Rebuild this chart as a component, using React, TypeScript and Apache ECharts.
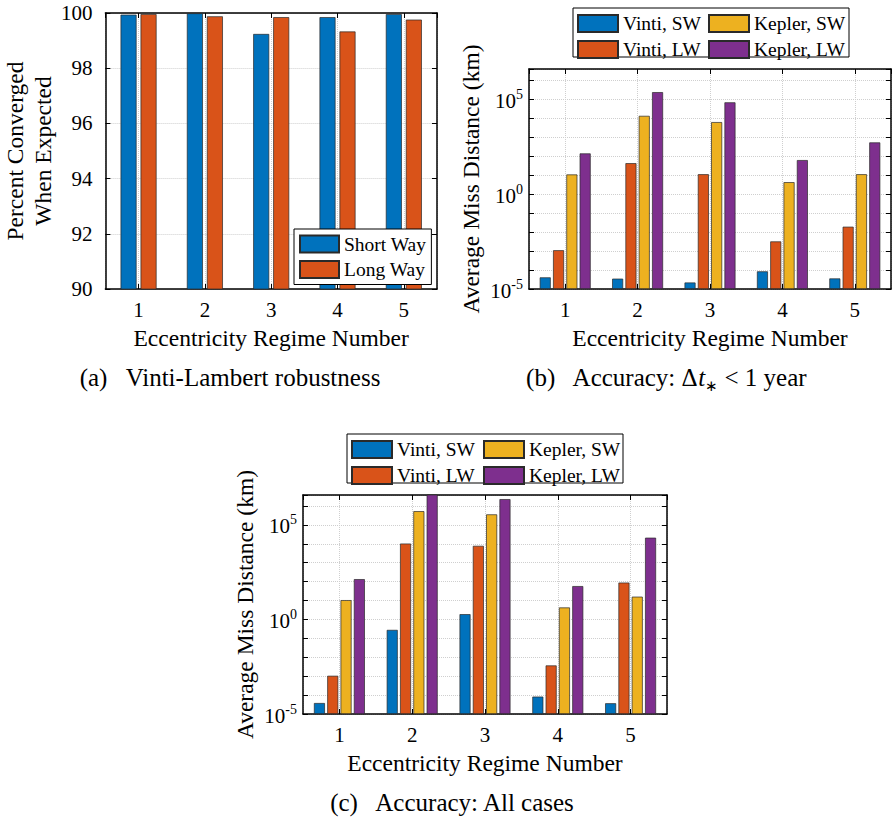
import React, { useEffect, useRef } from 'react';
import * as echarts from 'echarts';

// ---------- data ----------
const regimes = ['1', '2', '3', '4', '5'];

// (a) Vinti-Lambert robustness (percent converged)
const shortWay = [99.94, 99.99, 99.24, 99.85, 99.96];
const longWay = [99.96, 99.88, 99.85, 99.33, 99.76];

// (b) Accuracy: dt < 1 year (km)
const vintiSW_b = [4.1e-5, 3.5e-5, 2.2e-5, 8.5e-5, 3.6e-5];
const vintiLW_b = [1.1e-3, 42, 11, 3.2e-3, 0.019];
const keplerSW_b = [10.7, 1.3e4, 6.1e3, 4.2, 11];
const keplerLW_b = [137, 2.3e5, 6.7e4, 61, 520];

// (c) Accuracy: all cases (km)
const vintiSW_c = [3.8e-5, 0.28, 1.9, 8.3e-5, 3.7e-5];
const vintiLW_c = [1.05e-3, 1.03e4, 7.8e3, 3.7e-3, 89];
const keplerSW_c = [10.5, 5.3e5, 3.6e5, 4.3, 16];
const keplerLW_c = [135, 5e6, 2.3e6, 58, 2.1e4];

const legendA = ['Short Way', 'Long Way'];
const legendCol1 = ['Vinti, SW', 'Vinti, LW'];
const legendCol2 = ['Kepler, SW', 'Kepler, LW'];

const captionA = '(a)   Vinti-Lambert robustness';
const captionC = '(c)   Accuracy: All cases';

// ---------- style ----------
const FONT = '"Liberation Serif", "Times New Roman", serif';
const COL = { blue: '#0072BD', orange: '#D95319', yellow: '#EDB120', purple: '#7E2F8E' };
const TICK = 21;
const LABEL = 23.5;
const LEG = 19.5;
const CAP = 25;
const LOG_MIN = 1e-5;
const LOG_MAX = 3.8e6;

const grids = [
  { left: 100, top: 13, width: 337, height: 276 },
  { left: 529, top: 69, width: 362, height: 220 },
  { left: 303, top: 495, width: 364, height: 219 },
];

const axisLine = { show: true, onZero: false, lineStyle: { color: '#000', width: 1.5 } };
const tickIn = { show: true, inside: true, length: 5, lineStyle: { color: '#000', width: 1 } };
const gridLine = { show: true, lineStyle: { color: '#cfcfcf', type: 'dotted', width: 1 } };

function logLabel(v: number) {
  const e = Math.round(Math.log10(v));
  if (e % 5 !== 0) return '';
  return `{b|10}{s|${e}}`;
}

const logRich = {
  b: { fontSize: TICK, fontFamily: FONT, color: '#000', lineHeight: 24, verticalAlign: 'bottom' },
  s: { fontSize: 14, fontFamily: FONT, color: '#000', lineHeight: 12, verticalAlign: 'top' },
};

function xAxesFor(g: number) {
  return [
    {
      type: 'category', gridIndex: g, position: 'bottom', data: regimes,
      axisLine, axisTick: { ...tickIn, alignWithLabel: true },
      axisLabel: { color: '#000', fontSize: TICK, fontFamily: FONT, margin: 10 },
      splitLine: { show: false },
      name: 'Eccentricity Regime Number', nameLocation: 'middle', nameGap: 37,
      nameTextStyle: { color: '#000', fontSize: LABEL, fontFamily: FONT },
    },
    {
      type: 'value', gridIndex: g, position: 'top', min: 0.5, max: 5.5,
      axisLine, axisTick: tickIn, axisLabel: { show: false },
      splitLine: gridLine,
    },
  ];
}

function logYAxesFor(g: number) {
  return [
    {
      type: 'log', logBase: 10, gridIndex: g, position: 'left', min: LOG_MIN, max: LOG_MAX, interval: 1,
      startValue: LOG_MIN,
      axisLine, axisTick: tickIn,
      axisLabel: { formatter: logLabel, rich: logRich, margin: 6, color: '#000' },
      splitLine: gridLine,
      name: 'Average Miss Distance (km)', nameLocation: 'middle', nameGap: 46,
      nameTextStyle: { color: '#000', fontSize: LABEL, fontFamily: FONT },
    },
    {
      type: 'log', logBase: 10, gridIndex: g, position: 'right', min: LOG_MIN, max: LOG_MAX, interval: 1,
      axisLine, axisTick: tickIn, axisLabel: { show: false }, splitLine: { show: false },
    },
  ];
}

function bar(name: string, data: number[], color: string, xi: number, yi: number, width: number, gap: string) {
  return {
    type: 'bar', name, data, xAxisIndex: xi, yAxisIndex: yi,
    barWidth: width, barGap: gap, clip: true,
    itemStyle: { color, borderColor: '#2a2a2a', borderWidth: 0.7 },
  };
}

function legendCol(data: string[], left: number, top: number) {
  return {
    data, orient: 'vertical', left, top, padding: 0, itemGap: 6,
    itemWidth: 40, itemHeight: 17, icon: 'rect', selectedMode: false,
    textStyle: { color: '#000', fontSize: LEG, fontFamily: FONT, lineHeight: 17, padding: [0, 0, 0, 0] },
  };
}

const option: any = {
  animation: false,
  backgroundColor: '#fff',
  grid: grids.map((g) => ({ ...g, containLabel: false })),
  xAxis: [...xAxesFor(0), ...xAxesFor(1), ...xAxesFor(2)],
  yAxis: [
    {
      type: 'value', gridIndex: 0, position: 'left', min: 90, max: 100, interval: 2,
      axisLine, axisTick: tickIn,
      axisLabel: { color: '#000', fontSize: TICK, fontFamily: FONT, margin: 13 },
      splitLine: gridLine,
      name: 'Percent Converged\nWhen Expected', nameLocation: 'middle', nameGap: 41,
      nameTextStyle: { color: '#000', fontSize: LABEL, fontFamily: FONT, lineHeight: 28 },
    },
    {
      type: 'value', gridIndex: 0, position: 'right', min: 90, max: 100, interval: 2,
      axisLine, axisTick: tickIn, axisLabel: { show: false }, splitLine: { show: false },
    },
    ...logYAxesFor(1),
    ...logYAxesFor(2),
  ],
  legend: [
    {
      data: legendA, orient: 'vertical', left: 294, top: 229, padding: [5, 5, 5, 5], itemGap: 5.5,
      itemWidth: 39, itemHeight: 17, icon: 'rect', selectedMode: false,
      borderColor: '#000', borderWidth: 1, backgroundColor: '#fff',
      textStyle: { color: '#000', fontSize: LEG, fontFamily: FONT, lineHeight: 17 },
    },
    legendCol(legendCol1, 577, 13.5),
    legendCol(legendCol2, 708, 13.5),
    legendCol(legendCol1, 351, 439.5),
    legendCol(legendCol2, 483, 439.5),
  ],
  series: [
    bar(legendA[0], shortWay, COL.blue, 0, 0, 16, '25%'),
    bar(legendA[1], longWay, COL.orange, 0, 0, 16, '25%'),
    bar('Vinti, SW', vintiSW_b, COL.blue, 2, 2, 11, '21%'),
    bar('Vinti, LW', vintiLW_b, COL.orange, 2, 2, 11, '21%'),
    bar('Kepler, SW', keplerSW_b, COL.yellow, 2, 2, 11, '21%'),
    bar('Kepler, LW', keplerLW_b, COL.purple, 2, 2, 11, '21%'),
    bar('Vinti, SW', vintiSW_c, COL.blue, 4, 4, 11, '21%'),
    bar('Vinti, LW', vintiLW_c, COL.orange, 4, 4, 11, '21%'),
    bar('Kepler, SW', keplerSW_c, COL.yellow, 4, 4, 11, '21%'),
    bar('Kepler, LW', keplerLW_c, COL.purple, 4, 4, 11, '21%'),
  ],
  graphic: [
    { type: 'rect', z: -1, shape: { x: 573, y: 8, width: 276, height: 49 }, style: { fill: '#fff', stroke: '#000', lineWidth: 1 } },
    { type: 'rect', z: -1, shape: { x: 347, y: 434, width: 276, height: 49 }, style: { fill: '#fff', stroke: '#000', lineWidth: 1 } },
    {
      type: 'text', x: 230, y: 377,
      style: { text: captionA, fontSize: CAP, fontFamily: FONT, fill: '#000', align: 'center', verticalAlign: 'middle' },
    },
    {
      type: 'text', x: 666, y: 377,
      style: {
        text: '{n|(b)   Accuracy: Δ}{i|t}{sub|∗}{n| < 1 year}',
        align: 'center', verticalAlign: 'middle', fill: '#000',
        rich: {
          n: { fontSize: CAP, fontFamily: FONT, fill: '#000', lineHeight: 32 },
          i: { fontSize: CAP, fontFamily: FONT, fontStyle: 'italic', fill: '#000', lineHeight: 32 },
          sub: { fontSize: 15, fontFamily: FONT, fill: '#000', lineHeight: 15, verticalAlign: 'bottom' },
        },
      },
    },
    {
      type: 'text', x: 452, y: 802,
      style: { text: captionC, fontSize: CAP, fontFamily: FONT, fill: '#000', align: 'center', verticalAlign: 'middle' },
    },
  ],
};

export default function App() {
  const ref = useRef<HTMLDivElement>(null);
  useEffect(() => {
    const chart = echarts.init(ref.current!, null, { renderer: 'svg' });
    chart.setOption(option);
    return () => chart.dispose();
  }, []);
  return (
    <div
      ref={ref}
      style={{ position: 'absolute', left: 0, top: 0, width: 893, height: 827, background: '#fff' }}
    />
  );
}
